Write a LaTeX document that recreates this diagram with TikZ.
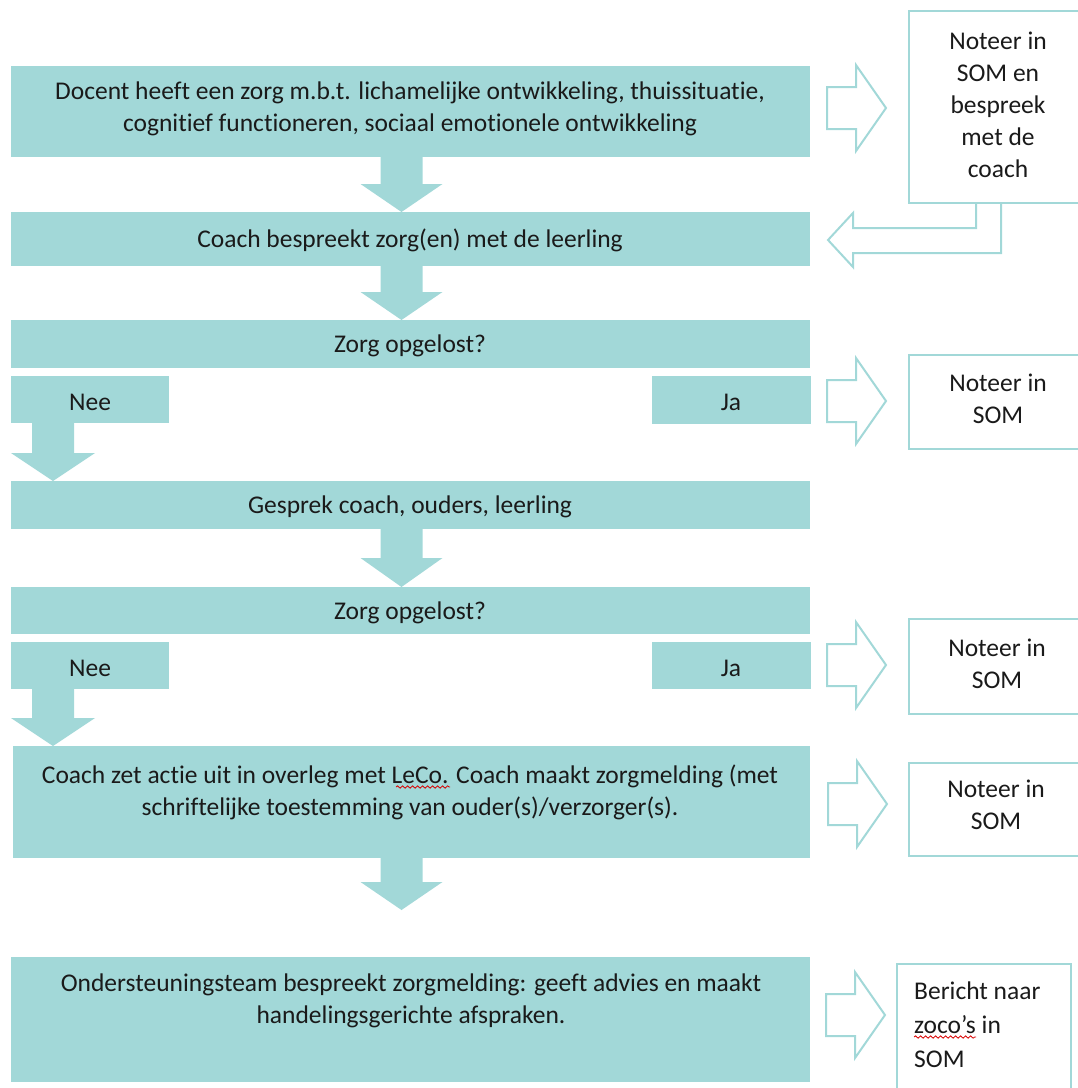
\documentclass[tikz,border=0pt]{standalone}
\usepackage{fontspec}
\setmainfont[Ligatures=NoCommon]{Carlito}
\usetikzlibrary{decorations.pathmorphing}
\definecolor{teal1}{RGB}{162,216,216}
\definecolor{txt}{RGB}{26,26,26}
\tikzset{
  fillbox/.style={fill=teal1, draw=none, inner sep=0pt, anchor=north west},
  outbox/.style={draw=teal1, line width=2pt, fill=white, inner sep=0pt, anchor=north west},
  lbl/.style={text=txt, font=\fontsize{25.5}{32}\selectfont, align=center, inner sep=0pt},
  blockarrow/.style={fill=teal1, draw=none},
  outarrow/.style={draw=teal1, line width=2pt, line join=miter, fill=white},
  wavy/.style={draw=red!85!black, line width=0.8pt, decorate, decoration={snake, amplitude=1.2pt, segment length=5pt}}
}
% down block arrow: cx, top, headY, tip, shaft half, head half
\newcommand{\dnarr}[6]{\fill[blockarrow] (#1-#5,#2) -- (#1+#5,#2) -- (#1+#5,#3) -- (#1+#6,#3) -- (#1,#4) -- (#1-#6,#3) -- (#1-#5,#3) -- cycle;}
% right outline arrow: x0, cy
\newcommand{\rtarr}[2]{\draw[outarrow] (#1,#2-21) -- (#1+29,#2-21) -- (#1+29,#2-43) -- (#1+59,#2) -- (#1+29,#2+43) -- (#1+29,#2+21) -- (#1,#2+21) -- cycle;}
\begin{document}
\begin{tikzpicture}[x=1pt,y=-1pt]
\useasboundingbox (0,0) rectangle (1078,1088);
\clip (0,0) rectangle (1078,1088);
% main boxes
\node[fillbox, minimum width=799pt, minimum height=91pt] (b1) at (11,66) {};
\node[lbl] (t1) at (410,109) {Docent heeft een zorg m.b.t. lichamelijke ontwikkeling, thuissituatie,\\cognitief functioneren, sociaal emotionele ontwikkeling};
\node[fillbox, minimum width=799pt, minimum height=54pt] (b2) at (11,212) {};
\node[lbl] (t2) at (410,240) {Coach bespreekt zorg(en) met de leerling};
\node[fillbox, minimum width=799pt, minimum height=48pt] (b3) at (11,320) {};
\node[lbl] (t3) at (410,346) {Zorg opgelost?};
\node[fillbox, minimum width=158pt, minimum height=47pt] (n1) at (11,376) {};
\node[lbl] at (90,402) {Nee};
\node[fillbox, minimum width=159pt, minimum height=48pt] (j1) at (652,376) {};
\node[lbl] at (731,402) {Ja};
\node[fillbox, minimum width=799pt, minimum height=48pt] (b4) at (11,481) {};
\node[lbl] (t4) at (410,507) {Gesprek coach, ouders, leerling};
\node[fillbox, minimum width=799pt, minimum height=47pt] (b5) at (11,587) {};
\node[lbl] (t5) at (410,613) {Zorg opgelost?};
\node[fillbox, minimum width=158pt, minimum height=47pt] (n2) at (11,642) {};
\node[lbl] at (90,668) {Nee};
\node[fillbox, minimum width=159pt, minimum height=47pt] (j2) at (652,642) {};
\node[lbl] at (731,668) {Ja};
\node[fillbox, minimum width=797pt, minimum height=112pt] (b6) at (13,746) {};
\node[lbl] (t6) at (410,792) {Coach zet actie uit in overleg met LeCo. Coach maakt zorgmelding (met\\schriftelijke toestemming van ouder(s)/verzorger(s).};
\node[fillbox, minimum width=799pt, minimum height=125pt] (b7) at (11,957) {};
\node[lbl] (t7) at (411,1001) {Ondersteuningsteam bespreekt zorgmelding: geeft advies en maakt\\handelingsgerichte afspraken.};
% down arrows
\dnarr{401.5}{157}{184}{212}{21}{41}
\dnarr{401.5}{266}{292}{320}{21}{41}
\dnarr{401.5}{529}{558}{587}{21}{41}
\dnarr{401.5}{858}{882}{910}{21}{41}
\dnarr{53}{423}{453}{481}{21}{42}
\dnarr{53}{689}{718}{746}{21}{42}
% right outline arrows
\rtarr{827}{108}
\rtarr{827}{401}
\rtarr{827}{665}
\rtarr{828}{804}
\rtarr{826}{1015}
% back arrow from first note box
\draw[outarrow] (976,202) -- (976,228) -- (853,228) -- (853,213) -- (828,240) -- (853,267) -- (853,253) -- (1001,253) -- (1001,202);
% note boxes
\node[outbox, minimum width=180pt, minimum height=192pt] (s1) at (908,10) {};
\node[lbl] at (998,105) {Noteer in\\SOM en\\bespreek\\met de\\coach};
\node[outbox, minimum width=180pt, minimum height=94pt] (s2) at (908,354) {};
\node[lbl] at (998,399) {Noteer in\\SOM};
\node[outbox, minimum width=180pt, minimum height=95pt] (s3) at (908,618) {};
\node[lbl] at (997,664) {Noteer in\\SOM};
\node[outbox, minimum width=180pt, minimum height=93pt] (s4) at (908,762) {};
\node[lbl] at (996,805) {Noteer in\\SOM};
\node[outbox, minimum width=174pt, minimum height=140pt] (s5) at (896,963) {};
\node[lbl, align=left, anchor=north west, font=\fontsize{25.5}{34}\selectfont] at (914,982) {Bericht naar\\zoco’s in\\SOM};
% spell-check underlines
\draw[wavy] (396,787) -- (450,787);
\draw[wavy] (914,1037) -- (976,1037);
\end{tikzpicture}
\end{document}
